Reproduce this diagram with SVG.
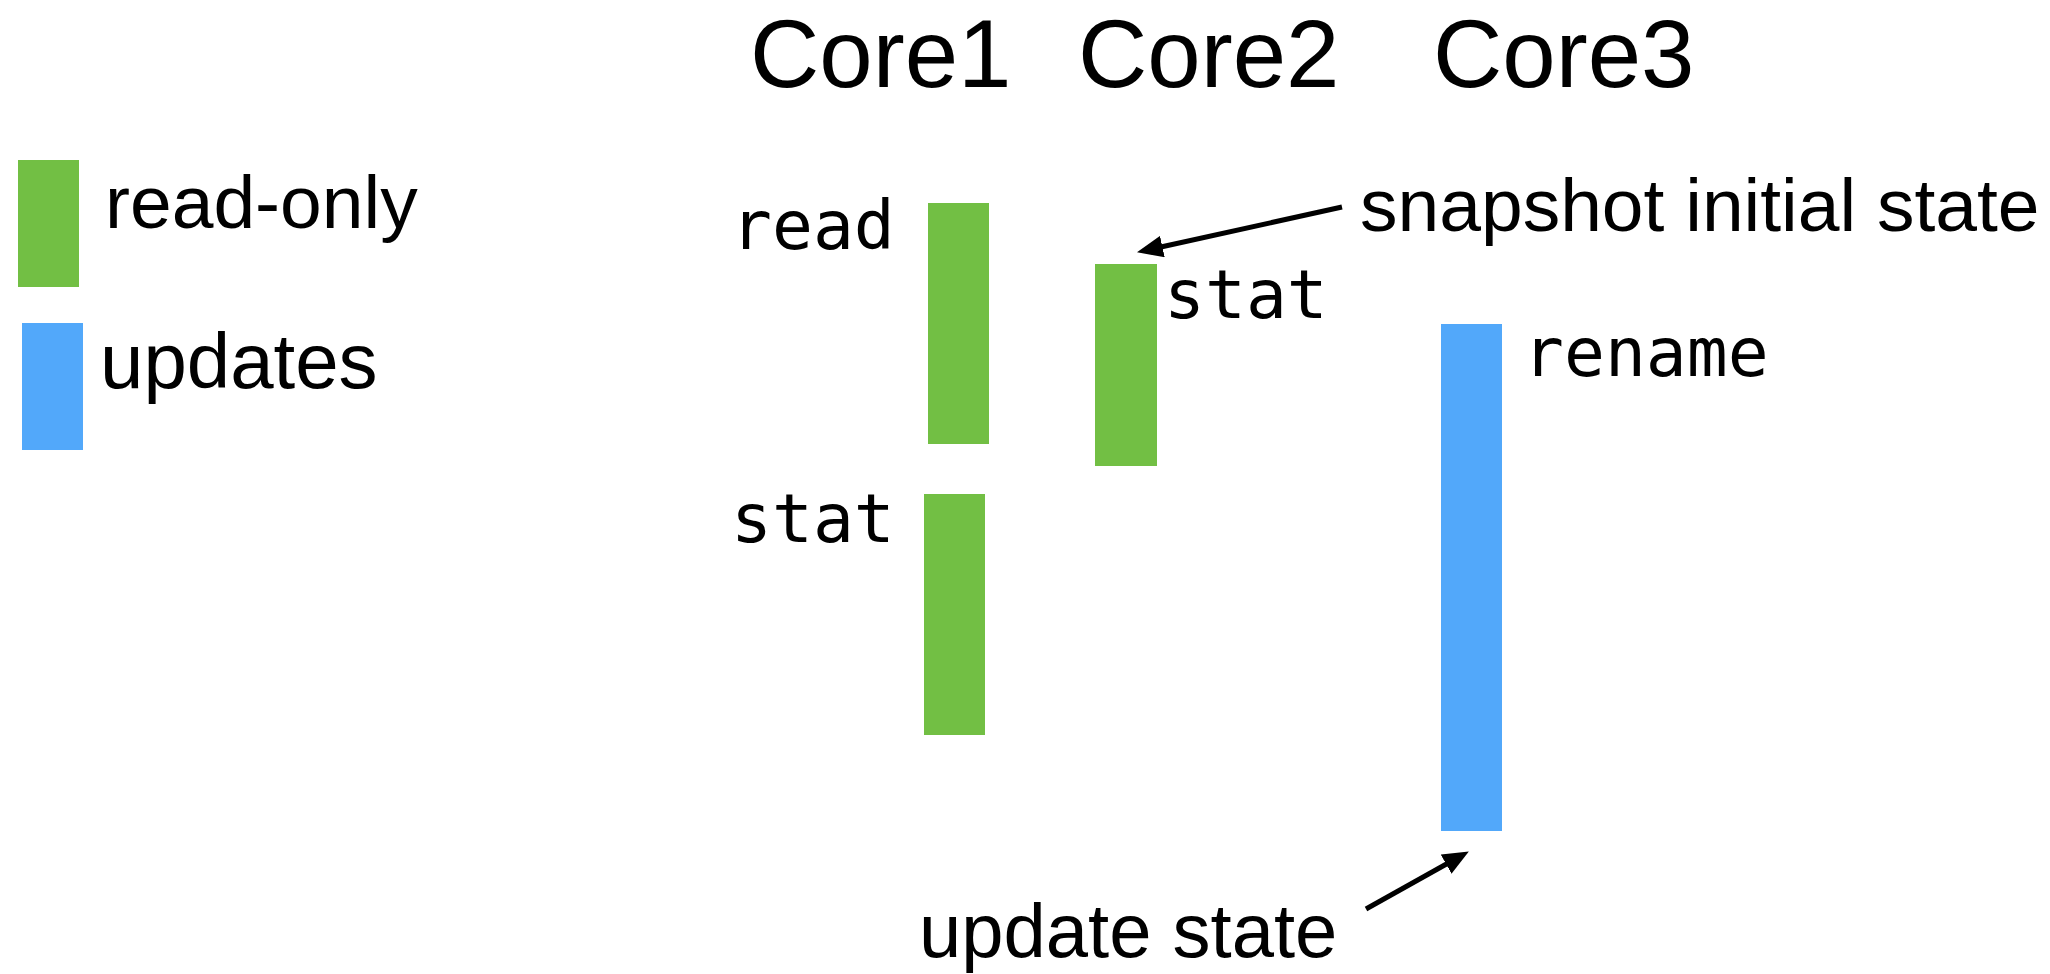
<svg xmlns="http://www.w3.org/2000/svg" width="2050" height="974" viewBox="0 0 2050 974">
  <style>
    .sans { font-family: "Liberation Sans", Arial, sans-serif; fill: #000; }
    .mono { font-family: "DejaVu Sans Mono", "Liberation Mono", monospace; font-size: 68px; fill: #000; }
    .head { font-size: 96px; }
    .note { font-size: 75px; }
    .ro { fill: #72BF44; }
    .up { fill: #52A8FA; }
    .arrow { stroke: #000; stroke-width: 5; fill: none; marker-end: url(#tip); }
  </style>
  <defs>
    <marker id="tip" markerUnits="userSpaceOnUse" markerWidth="26" markerHeight="22" viewBox="0 0 26 22" refX="5" refY="11" orient="auto">
      <path d="M0,0 L26,11 L0,22 z" fill="#000"/>
    </marker>
  </defs>

  <rect width="2050" height="974" fill="#fff"/>

  <!-- legend -->
  <g id="legend-readonly">
    <rect class="ro" x="18" y="160" width="61" height="127"/>
    <text class="sans note" x="105" y="228">read-only</text>
  </g>
  <g id="legend-updates">
    <rect class="up" x="22" y="323" width="61" height="127"/>
    <text class="sans" font-size="78" x="100" y="388">updates</text>
  </g>

  <!-- column headings -->
  <g id="heading-core1"><text class="sans head" x="750" y="87">Core1</text></g>
  <g id="heading-core2"><text class="sans head" x="1078" y="87">Core2</text></g>
  <g id="heading-core3"><text class="sans head" x="1433" y="87">Core3</text></g>

  <!-- Core1 operations -->
  <g id="core1-read">
    <rect class="ro" x="928" y="203" width="61" height="241"/>
    <text class="mono" x="731" y="249">read</text>
  </g>
  <g id="core1-stat">
    <rect class="ro" x="924" y="494" width="61" height="241"/>
    <text class="mono" x="731" y="542">stat</text>
  </g>

  <!-- Core2 operation -->
  <g id="core2-stat">
    <rect class="ro" x="1095" y="264" width="62" height="202"/>
    <text class="mono" x="1164" y="318">stat</text>
  </g>

  <!-- Core3 operation -->
  <g id="core3-rename">
    <rect class="up" x="1441" y="324" width="61" height="507"/>
    <text class="mono" x="1523" y="376">rename</text>
  </g>

  <!-- annotations -->
  <g id="note-snapshot"><text class="sans note" x="1360" y="231">snapshot initial state</text></g>
  <g id="note-update"><text class="sans" font-size="76" x="919" y="957">update state</text></g>

  <g id="connectors">
    <line class="arrow" x1="1342" y1="207" x2="1157.5" y2="247.7"/>
    <line class="arrow" x1="1366" y1="909" x2="1450.5" y2="861.8"/>
  </g>
</svg>
